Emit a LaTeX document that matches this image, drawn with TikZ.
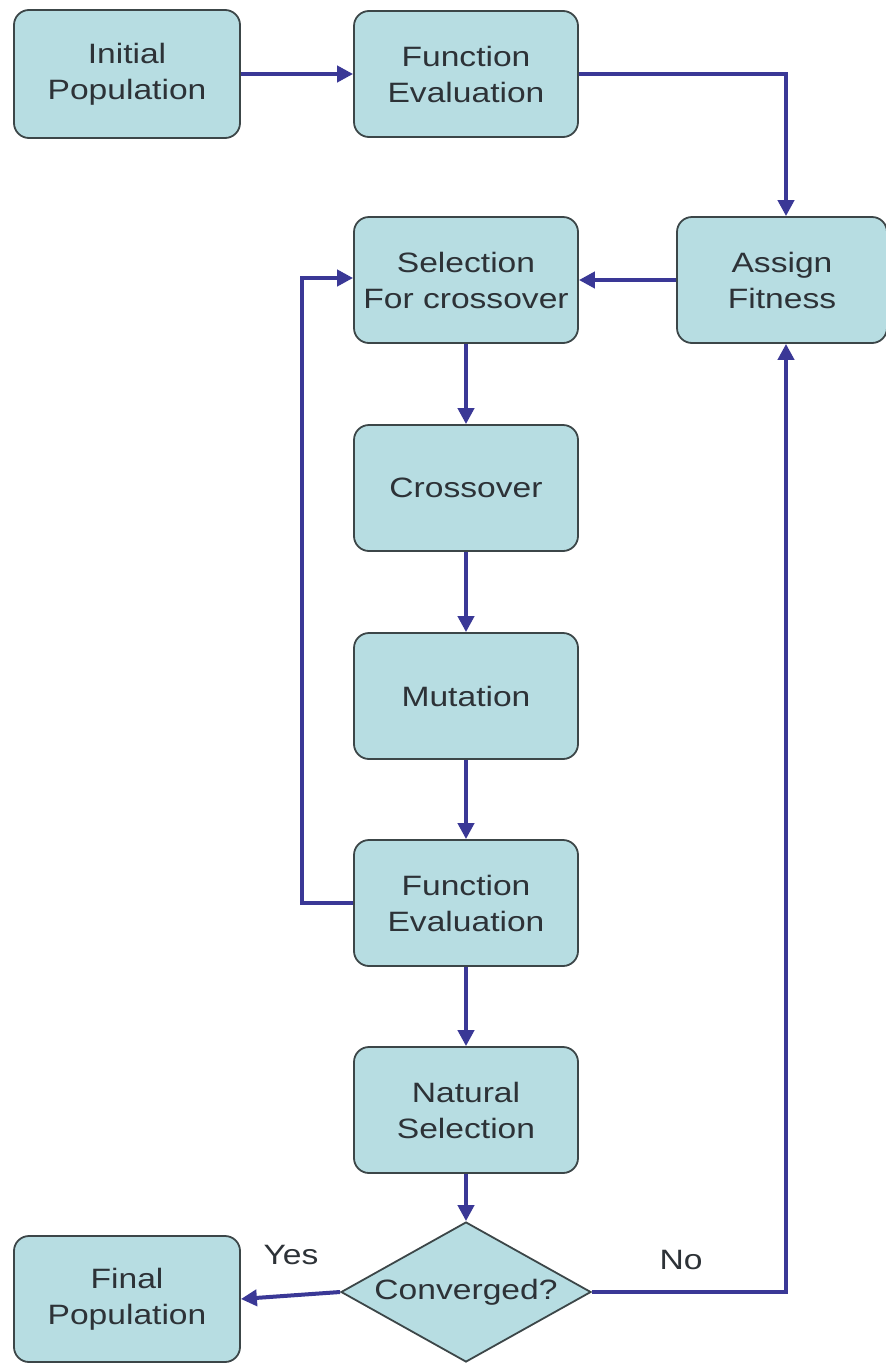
\documentclass[tikz,border=0pt]{standalone}
\usepackage{fontspec}
\setmainfont{Liberation Sans}[FakeStretch=1.2]
\usetikzlibrary{shapes.geometric,arrows.meta}
\definecolor{boxfill}{RGB}{183,221,226}
\definecolor{boxline}{RGB}{60,70,72}
\definecolor{arrowc}{RGB}{58,56,150}
\definecolor{txt}{RGB}{45,50,55}
\tikzset{
  stepbox/.style={draw=boxline, line width=1.8pt, fill=boxfill, rounded corners=15pt,
    minimum width=224pt, minimum height=126pt, align=center, text=txt,
    font=\fontsize{28pt}{36pt}\selectfont, inner sep=0pt},
  decbox/.style={draw=boxline, line width=1.8pt, fill=boxfill, diamond, aspect=1.786,
    minimum width=250pt, minimum height=140pt, inner sep=0pt, text=txt,
    font=\fontsize{28pt}{36pt}\selectfont},
  flow/.style={draw=arrowc, line width=4pt, -{Triangle[length=16pt,width=16pt]}},
  lbl/.style={text=txt, font=\fontsize{28pt}{36pt}\selectfont, inner sep=0pt}
}
\begin{document}
\begin{tikzpicture}[x=1pt,y=-1pt]
\useasboundingbox[fill=white] (0,0) rectangle (886,1363);
\node[stepbox, minimum width=226pt, minimum height=128pt] (init) at (127,74) {Initial\\Population};
\node[stepbox] (fe1) at (466,74) {Function\\Evaluation};
\node[stepbox] (sel) at (466,280) {Selection\\For crossover};
\node[stepbox, minimum width=210pt] (fit) at (782,280) {Assign\\Fitness};
\node[stepbox] (cross) at (466,488) {Crossover};
\node[stepbox] (mut) at (466,696) {Mutation};
\node[stepbox] (fe2) at (466,903) {Function\\Evaluation};
\node[stepbox] (nat) at (466,1110) {Natural\\Selection};
\node[decbox] (conv) at (466,1292) {Converged?};
\node[stepbox, minimum width=226pt] (final) at (127,1299) {Final\\Population};
\coordinate (fbx) at (302,0);
\coordinate (rx) at (786,0);

\draw[flow] (init) -- (fe1);
\draw[flow] (fe1.east) -| (fit.north -| rx);
\draw[flow] (fit) -- (sel);
\draw[flow] (sel) -- (cross);
\draw[flow] (cross) -- (mut);
\draw[flow] (mut) -- (fe2);
\draw[flow] (fe2) -- (nat);
\draw[flow] (nat) -- (conv);
\draw[flow] (fe2.west) -- (fe2.west -| fbx) |- ([yshift=2pt]sel.west);
\draw[flow] (conv.east) -| (fit.south -| rx);
\draw[flow] (conv.west) -- (final.east);
\node[lbl] (yes) at (291,1255) {Yes};
\node[lbl] (no) at (681,1260) {No};
\end{tikzpicture}
\end{document}
